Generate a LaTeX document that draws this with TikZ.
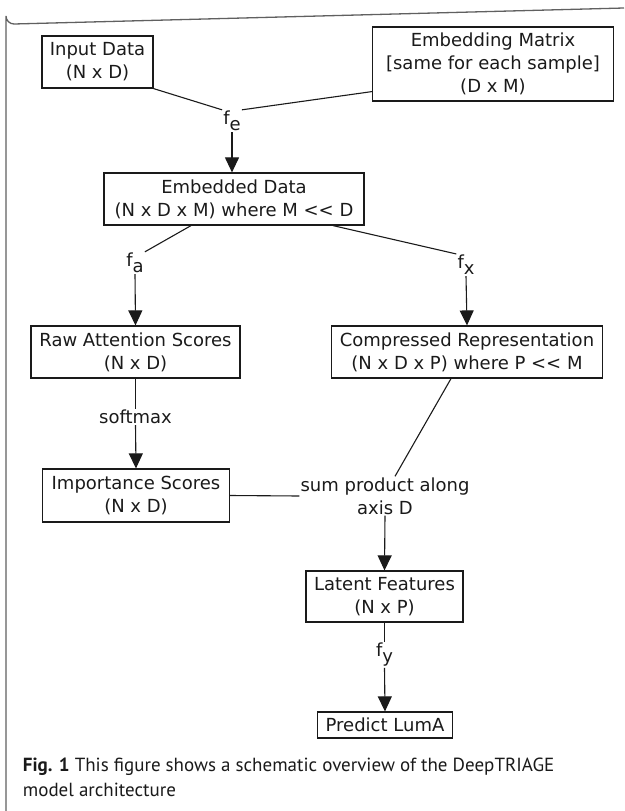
\documentclass[tikz,border=0pt]{standalone}
\usepackage{fontspec}
\setmainfont{DejaVu Sans}
\newfontfamily\capfont{PT Sans}
\usetikzlibrary{arrows.meta,calc}
\definecolor{ink}{HTML}{1A1A1A}
\definecolor{framegray}{HTML}{606060}
\tikzset{
  box/.style={draw=ink, line width=1.2pt, inner sep=0pt, align=center, text=ink,
    font=\fontsize{18}{23}\selectfont},
  lbl/.style={inner sep=1pt, align=center, text=ink, font=\fontsize{18}{23}\selectfont},
  conn/.style={draw=ink, line width=1.1pt},
  arr/.style={draw=ink, line width=1.1pt, -{Triangle[length=15pt,width=14pt]}},
}
\newcommand{\sbs}[1]{\raisebox{-6pt}{#1}}
\begin{document}
\begin{tikzpicture}[x=1pt,y=-1pt]
\useasboundingbox (0,0) rectangle (624,811);
% frame
\draw[framegray, line width=1.3pt] (6,811) -- (6,16) arc[start angle=180, end angle=90, radius=8] -- (624,8);

% boxes
\node[box, minimum width=111pt, minimum height=52pt] (input) at (97.5,62) {Input Data\\(N x D)};
\node[box, minimum width=241pt, minimum height=74pt] (emb) at (493,64) {Embedding Matrix\\{}[same for each sample]\\(D x M)};
\node[box, minimum width=260pt, minimum height=52pt] (embd) at (234,199) {Embedded Data\\(N x D x M) where M <\kern0pt< D};
\node[box, minimum width=209pt, minimum height=52pt] (raw) at (135.5,352) {Raw Attention Scores\\(N x D)};
\node[box, minimum width=271pt, minimum height=52pt] (comp) at (467,352) {Compressed Representation\\(N x D x P) where P <\kern0pt< M};
\node[box, minimum width=186.5pt, minimum height=53pt] (imp) at (136,495.5) {Importance Scores\\(N x D)};
\node[box, minimum width=157pt, minimum height=51pt] (lat) at (384.5,596.5) {Latent Features\\(N x P)};
\node[box, minimum width=134.5pt, minimum height=26pt] (pred) at (385,725) {Predict LumA};

% labels
\node[lbl] (fe) at (232,121) {f\sbs{e}};
\node[lbl] (fa) at (135,263) {f\sbs{a}};
\node[lbl] (fx) at (466,265) {f\sbs{x}};
\node[lbl] (smax) at (135.5,417) {softmax};
\node[lbl] (sp) at (385,496) {sum product along\\axis D};
\node[lbl] (fy) at (384.5,655) {f\sbs{y}};

% connectors
\draw[conn] (input.south east) -- (fe.north west);
\draw[conn] ([yshift=10pt]emb.south west) -- (fe.north east);
\draw[arr] (fe.south) -- (fe.south |- embd.north);

\draw[conn] ([xshift=-43pt]embd.south) -- (fa.north east);
\draw[arr] (fa.south) -- (raw.north);
\draw[conn] ([xshift=99pt]embd.south) -- (fx.north west);
\draw[arr] (fx.south) -- (comp.north);

\draw[conn] (raw.south) -- (smax.north);
\draw[arr] (smax.south) -- (imp.north);

\draw[conn] ([xshift=-16pt]comp.south) -- ([xshift=10pt]sp.north);
\draw[conn] (imp.east) -- (sp.west);
\draw[arr] (sp.south) -- (lat.north);

\draw[conn] (lat.south) -- (fy.north);
\draw[arr] (fy.south) -- (pred.north);

% caption
\node[anchor=base west, align=left, inner sep=0pt, text=ink,
  font=\capfont\fontsize{19}{25}\selectfont] (cap) at (22.7,796)
  {\textbf{Fig. 1} This figure shows a schematic overview of the DeepTRIAGE\\model architecture};
\end{tikzpicture}
\end{document}
